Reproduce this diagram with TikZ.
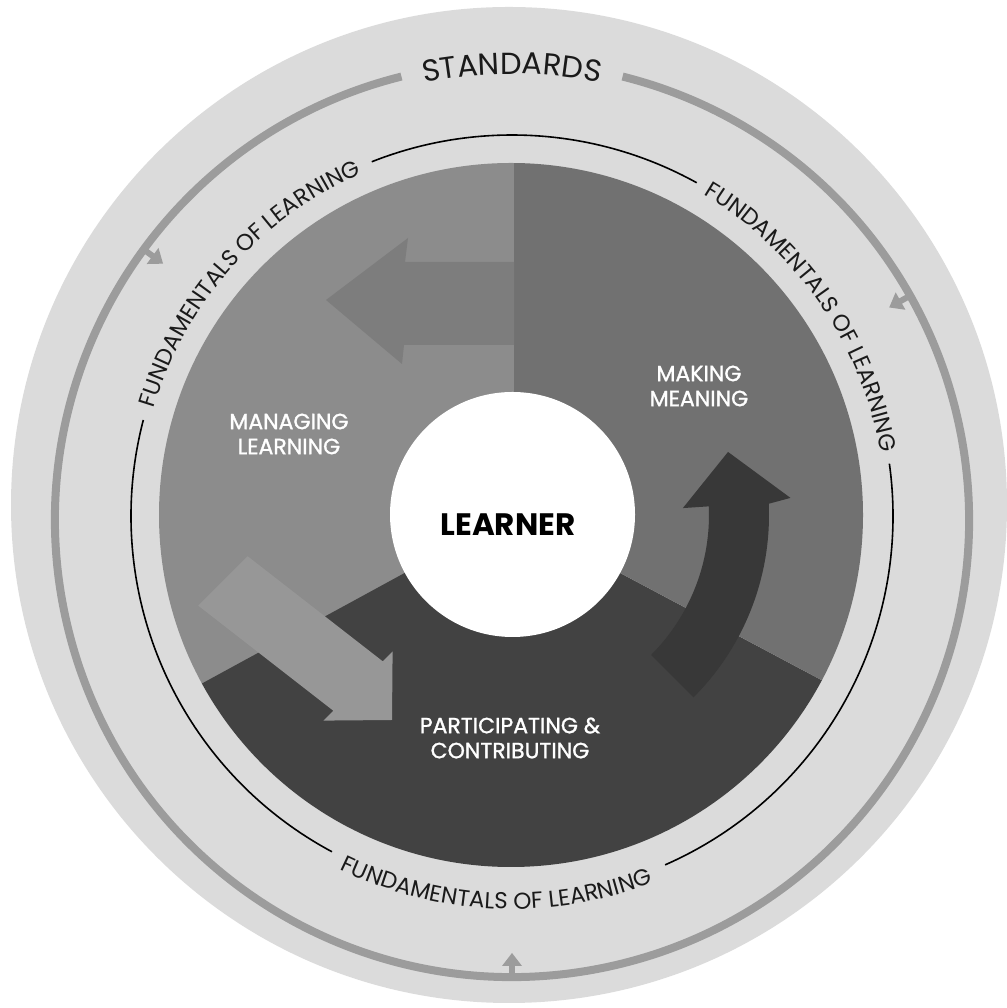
\documentclass[tikz,border=0pt]{standalone}
\usepackage{fontspec}
\setmainfont{Poppins}
\newfontfamily\labelfont{Poppins}[FakeBold=1.3]
\usetikzlibrary{decorations.text}
\definecolor{bgdisk}{HTML}{DBDBDB}
\definecolor{ringgray}{HTML}{9C9C9C}
\definecolor{mancol}{HTML}{8C8C8C}
\definecolor{manarrow}{HTML}{979797}
\definecolor{makcol}{HTML}{717171}
\definecolor{makarrow}{HTML}{7D7D7D}
\definecolor{parcol}{HTML}{424242}
\definecolor{pararrow}{HTML}{383838}
\definecolor{inktext}{HTML}{1A1A1A}
\begin{document}
\begin{tikzpicture}[x=1pt,y=1pt,
  fundcw/.style={decorate, decoration={text along path, text align=center, text color=inktext,
      text={|\fontsize{23}{23}\selectfont|FUNDAMENTALS OF LEARNING}}},
  thinring/.style={draw=black, line width=1.6pt},
  sectorlabel/.style={text=white, align=center, font=\labelfont\fontsize{22}{25}\selectfont},
  smallarrow/.style={fill=ringgray}]
\useasboundingbox (0,0) rectangle (1006,1008);
\coordinate (C) at (512,492);
\coordinate (Cg) at (512,488);
\coordinate (Cd) at (511,493);
% outer light disk
\fill[bgdisk] (509,503) circle (498);
% standards ring
\draw[ringgray, line width=8pt] ([shift={(104:457)}]Cg) arc[start angle=104, end angle=436, radius=457];
\path[decorate, decoration={text along path, text align=center, text color=inktext,
      text={|\fontsize{30.5}{30.5}\selectfont|STANDARDS}}]
  ([shift={(110:446)}]Cg) arc[start angle=110, end angle=70, radius=446];
\foreach \a in {143.7,29.4,270}{
  \begin{scope}[shift={(Cg)}, rotate=\a]
    \fill[smallarrow] (444,-3) rectangle (458,3);
    \fill[smallarrow] (446,-10) -- (433,0) -- (446,10) -- cycle;
  \end{scope}}
% thin ring (fundamentals)
\draw[thinring] ([shift={(61:381)}]C) arc[start angle=61, end angle=111.6, radius=381];
\draw[thinring] ([shift={(7.9:381)}]C) arc[start angle=7.9, end angle=-66.3, radius=381];
\draw[thinring] ([shift={(165.4:381)}]C) arc[start angle=165.4, end angle=241.8, radius=381];
\path[fundcw] ([shift={(168:374)}]C) arc[start angle=168, end angle=109, radius=374];
\path[fundcw] ([shift={(64.5:374)}]C) arc[start angle=64.5, end angle=4.5, radius=374];
\path[fundcw] ([shift={(237.5:393)}]C) arc[start angle=237.5, end angle=297.5, radius=393];
% dark disk sectors
\begin{scope}
  \clip (Cd) circle (352);
  \fill[mancol] (514,493) -- (514,1000) -- (0,1000) -- (0,0) -- ([shift={(208.6:600)}]Cd) -- cycle;
  \fill[parcol] (Cd) -- ([shift={(208.6:600)}]Cd) -- (1006,0) -- ([shift={(332:600)}]Cd) -- cycle;
  \fill[makcol] (Cd) -- ([shift={(332:600)}]Cd) -- (1006,1000) -- (514,1000) -- (514,493) -- cycle;
  % arrow managing -> participating
  \fill[manarrow] (247.7,451.7) -- (382.7,346.7) -- (392.6,356.6) -- (392,288) -- (323.4,287.4) -- (333.3,297.3) -- (198.3,402.3) -- cycle;
  % arrow participating -> making
  \fill[pararrow] ([shift={(-45:198)}]Cd) arc[start angle=-45, end angle=2.5, radius=198]
    -- ([shift={(2.3:172)}]Cd) -- ([shift={(16.2:226)}]Cd) -- ([shift={(3.5:280)}]Cd)
    -- ([shift={(2.5:258)}]Cd) arc[start angle=2.5, end angle=-45, radius=258] -- cycle;
  % arrow making -> managing
  \fill[makarrow] (514,746) -- (405,746) -- (408,770) -- (326,708) -- (402,644) -- (404,663) -- (514,663) -- cycle;
\end{scope}
% learner
\node[circle, fill=white, inner sep=0pt, minimum size=245pt] (core) at (512.5,493.5) {};
\node[text=black, font=\bfseries\fontsize{31}{31}\selectfont] (learner) at (508,483) {LEARNER};
\node[sectorlabel] (managing) at (289,574) {MANAGING\\LEARNING};
\node[sectorlabel] (making) at (699,622) {MAKING\\MEANING};
\node[sectorlabel] (participating) at (510,270) {PARTICIPATING \&\\CONTRIBUTING};
\end{tikzpicture}
\end{document}
